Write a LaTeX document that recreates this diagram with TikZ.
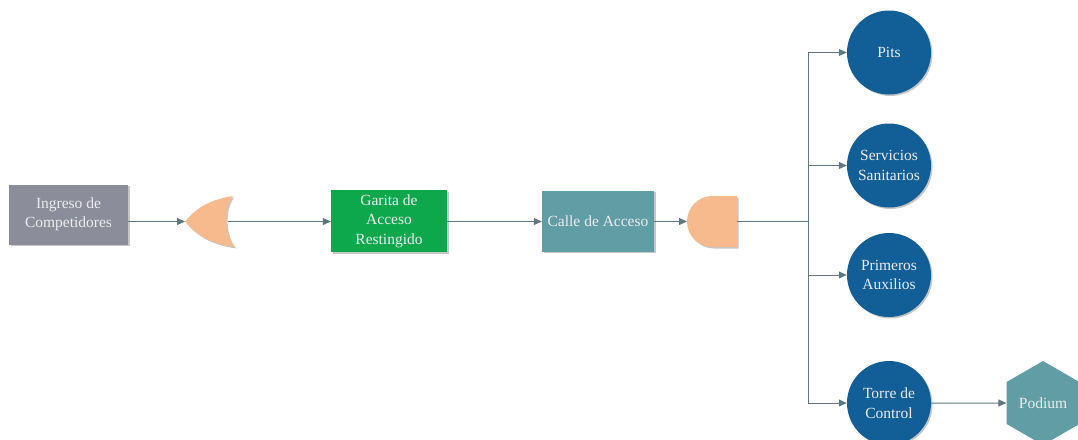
\documentclass[tikz,border=0pt]{standalone}
\usepackage{fontspec}
\setmainfont{Liberation Serif}
\usetikzlibrary{arrows.meta,shapes.geometric,shadows}
\definecolor{boxgray}{RGB}{139,141,154}
\definecolor{boxgreen}{RGB}{14,168,76}
\definecolor{boxteal}{RGB}{96,157,165}
\definecolor{circblue}{RGB}{18,94,150}
\definecolor{peach}{RGB}{246,186,140}
\definecolor{linecol}{RGB}{96,118,128}
\definecolor{txtcol}{RGB}{236,236,240}
\begin{document}
\begin{tikzpicture}[x=1pt,y=-1pt,
  shad/.style={drop shadow={shadow xshift=1.5pt,shadow yshift=-1.5pt,fill=black!50,opacity=0.45}},
  txt/.style={text=txtcol,align=center,font=\rmfamily\fontsize{15.5}{19.5}\selectfont,inner sep=0pt},
  box/.style={rectangle,shad,txt},
  circ/.style={circle,shad,txt,fill=circblue,minimum size=84pt},
  ln/.style={draw=linecol,line width=1pt},
  conn/.style={ln,-{Triangle[length=8pt,width=7pt]}}
]
\useasboundingbox (0,0) rectangle (1078,439);
\clip (0,0) rectangle (1078,439);

% boxes
\node[box,fill=boxgray,minimum width=119pt,minimum height=60pt] (ingreso) at (68.5,214.5) {Ingreso de\\Competidores};
\node[box,fill=boxgreen,minimum width=116pt,minimum height=62pt] (garita) at (389,221) {Garita de\\Acceso\\Restingido};
\node[box,fill=boxteal,minimum width=112pt,minimum height=61pt] (calle) at (598,221) {Calle de Acceso};

% OR gate
\coordinate (ortip) at (185,221.5);
\coordinate (orin) at (227.5,221.5);
\fill[peach,shad] (233,196) .. controls (206,200) and (194,211) .. (ortip)
  .. controls (194,232) and (206,243) .. (235,247)
  .. controls (224,236) and (223,207) .. (233,196) -- cycle;

% AND gate
\coordinate (andin) at (687,221.5);
\coordinate (andout) at (737,221.5);
\fill[peach,shad] (737,196) -- (712.5,196) arc[start angle=270,end angle=90,radius=25.5] -- (737,247) -- cycle;

% circles
\node[circ] (pits) at (889,52.5) {Pits};
\node[circ] (serv) at (889,165.5) {Servicios\\Sanitarios};
\node[circ] (prim) at (889,275) {Primeros\\Auxilios};
\node[circ] (torre) at (889,403) {Torre de\\Control};
\node[regular polygon,regular polygon sides=6,shape border rotate=30,minimum size=84pt,fill=boxteal,txt] (podium) at (1043,403) {Podium};

% connectors
\coordinate (split) at (808,221.5);
\draw[conn] (ingreso.east |- ortip) -- (ortip);
\draw[conn] (orin) -- (garita.west |- orin);
\draw[conn] (garita.east |- orin) -- (calle.west |- orin);
\draw[conn] (calle.east |- andin) -- (andin);
\draw[ln] (andout) -- (split);
\draw[conn] (split) |- (pits.west);
\draw[conn] (split) |- (serv.west);
\draw[conn] (split) |- (prim.west);
\draw[conn] (split) |- (torre.west);
\draw[conn] (torre) -- (podium);
\end{tikzpicture}
\end{document}
